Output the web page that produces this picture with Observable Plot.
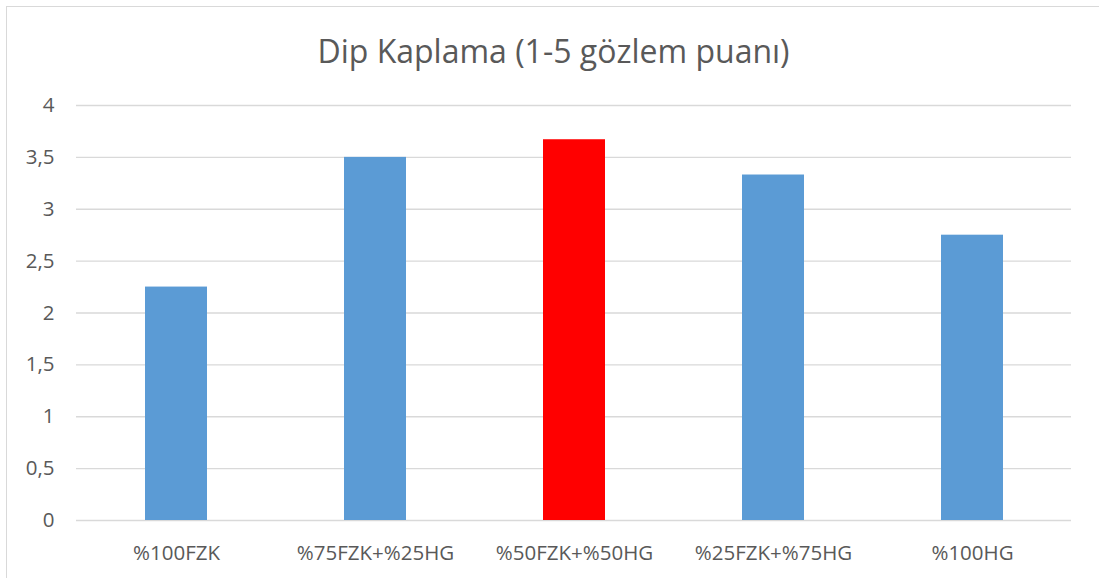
<!DOCTYPE html>
<html>
<head>
<meta charset="utf-8">
<script src="https://cdn.jsdelivr.net/npm/d3@7"></script>
<script src="https://cdn.jsdelivr.net/npm/@observablehq/plot@0.6"></script>
<style>
  html, body { margin: 0; padding: 0; background: #fff; }
  #wrap { position: relative; width: 1099px; height: 578px; overflow: hidden; background: #fff; }
  #border { position: absolute; left: 6px; top: 6px; width: 1200px; height: 700px; border: 1px solid #D9D9D9; box-sizing: border-box; }
  #title { position: absolute; left: 0; top: 6px; width: 1099px; height: 90px; text-align: center;
           font-family: "Open Sans", sans-serif; font-weight: 400; font-size: 32px; color: #595959;
           line-height: 90px; padding-left: 8px; box-sizing: border-box; }
  #chart { position: absolute; left: 0; top: 90px; }
</style>
</head>
<body>
<div id="wrap">
  <div id="border"></div>
  <div id="title">Dip Kaplama (1-5 gözlem puanı)</div>
  <div id="chart"></div>
</div>
<script>
const categories = ["%100FZK", "%75FZK+%25HG", "%50FZK+%50HG", "%25FZK+%75HG", "%100HG"];
const values = [2.25, 3.5, 3.67, 3.33, 2.75];
const barColors = ["#5B9BD5", "#5B9BD5", "#FF0000", "#5B9BD5", "#5B9BD5"];
const yTicks = [0, 0.5, 1, 1.5, 2, 2.5, 3, 3.5, 4];

const data = categories.map((c, i) => ({category: c, value: values[i], color: barColors[i]}));
const fmt = d => String(d).replace(".", ",");

const plot = Plot.plot({
  width: 1099,
  height: 488,
  marginTop: 15,
  marginBottom: 58,
  marginLeft: 76,
  marginRight: 28,
  style: {fontFamily: "Open Sans, sans-serif", fontSize: "20px", color: "#595959", background: "transparent"},
  x: {domain: categories, paddingInner: 0.69, paddingOuter: 0.345, align: 0.5, label: null, tickSize: 0},
  y: {domain: [0, 4], ticks: yTicks, tickFormat: fmt, label: null, tickSize: 0},
  marks: [
    Plot.gridY(yTicks, {stroke: "#D9D9D9", strokeOpacity: 1, strokeWidth: 1.3}),
    Plot.barY(data, {x: "category", y: "value", fill: d => d.color}),
    Plot.axisX({tickSize: 0, tickPadding: 25, fontSize: 20.5, fill: "#595959"}),
    Plot.axisY(yTicks, {tickSize: 0, tickPadding: 22, tickFormat: fmt, fontSize: 20.5, fill: "#595959"})
  ]
});
document.getElementById("chart").appendChild(plot);
</script>
</body>
</html>
